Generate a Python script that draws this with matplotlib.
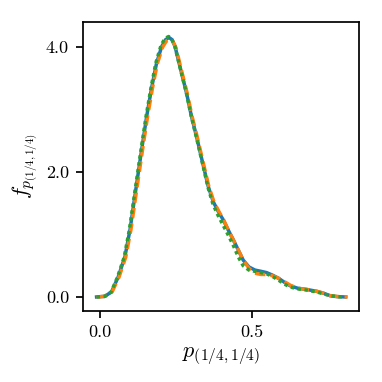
import matplotlib
matplotlib.use("Agg")
import matplotlib.pyplot as plt

plt.rcParams["font.family"] = "serif"
plt.rcParams["font.serif"] = ["cmr10", "DejaVu Serif"]
plt.rcParams["mathtext.fontset"] = "cm"
plt.rcParams["axes.unicode_minus"] = False

# density estimates (three estimates of the same density)
p_blue = [-0.011, 0.016, 0.038, 0.060, 0.082, 0.099, 0.115, 0.130, 0.140, 0.154, 0.170,
          0.186, 0.203, 0.216, 0.227, 0.237, 0.247, 0.263, 0.285, 0.301, 0.318, 0.340,
          0.356, 0.373, 0.390, 0.406, 0.422, 0.439, 0.455, 0.471, 0.490, 0.510, 0.530,
          0.548, 0.567, 0.587, 0.605, 0.625, 0.650, 0.680, 0.713, 0.735, 0.757, 0.780, 0.806]
f_blue = [0.0, 0.01, 0.08, 0.32, 0.64, 1.08, 1.62, 2.12, 2.45, 2.90, 3.35,
          3.74, 4.01, 4.12, 4.155, 4.12, 4.01, 3.69, 3.26, 2.89, 2.56, 2.10,
          1.77, 1.52, 1.36, 1.23, 1.07, 0.91, 0.75, 0.59, 0.48, 0.43, 0.41,
          0.39, 0.35, 0.30, 0.24, 0.18, 0.14, 0.12, 0.09, 0.06, 0.02, 0.005, 0.0]

p_orange = [-0.011, 0.016, 0.040, 0.063, 0.085, 0.102, 0.118, 0.133, 0.143, 0.157, 0.173,
            0.189, 0.206, 0.219, 0.230, 0.240, 0.250, 0.265, 0.287, 0.303, 0.320, 0.342,
            0.358, 0.375, 0.392, 0.408, 0.424, 0.441, 0.457, 0.473, 0.492, 0.510, 0.530,
            0.548, 0.567, 0.587, 0.605, 0.625, 0.650, 0.680, 0.713, 0.735, 0.757, 0.785, 0.815]
f_orange = [0.0, 0.01, 0.08, 0.32, 0.64, 1.08, 1.62, 2.12, 2.45, 2.90, 3.35,
            3.74, 4.00, 4.10, 4.125, 4.09, 3.99, 3.69, 3.26, 2.89, 2.56, 2.10,
            1.77, 1.52, 1.36, 1.22, 1.05, 0.89, 0.73, 0.57, 0.45, 0.38, 0.36,
            0.36, 0.34, 0.30, 0.25, 0.19, 0.14, 0.12, 0.09, 0.06, 0.02, 0.005, 0.0]

p_green = [-0.011, 0.016, 0.037, 0.058, 0.080, 0.097, 0.113, 0.128, 0.138, 0.152, 0.168,
           0.184, 0.201, 0.214, 0.226, 0.236, 0.246, 0.262, 0.284, 0.300, 0.317, 0.339,
           0.355, 0.372, 0.389, 0.405, 0.422, 0.439, 0.455, 0.471, 0.490, 0.510, 0.530,
           0.548, 0.567, 0.587, 0.605, 0.625, 0.650, 0.680, 0.713, 0.735, 0.757, 0.780, 0.806]
f_green = [0.0, 0.01, 0.08, 0.32, 0.64, 1.08, 1.62, 2.12, 2.45, 2.90, 3.35,
           3.75, 4.03, 4.14, 4.17, 4.13, 4.02, 3.70, 3.27, 2.90, 2.56, 2.10,
           1.76, 1.48, 1.30, 1.15, 0.99, 0.82, 0.64, 0.50, 0.43, 0.41, 0.39,
           0.37, 0.33, 0.27, 0.21, 0.16, 0.13, 0.11, 0.08, 0.05, 0.02, 0.005, 0.0]

fig = plt.figure(figsize=(3.82, 3.82), dpi=100)
ax = fig.add_axes([0.217, 0.186, 0.723, 0.756])

ax.plot(p_blue, f_blue, color="C0", lw=2.5, ls="-")
ax.plot(p_orange, f_orange, color="C1", lw=2.5, ls=(0, (3, 1.5)))
ax.plot(p_green, f_green, color="C2", lw=2.5, ls=(0, (1, 1)))

ax.set_xlim(-0.056, 0.852)
ax.set_ylim(-0.224, 4.4)
ax.set_xticks([0.0, 0.5])
ax.set_xticklabels(["0.0", "0.5"])
ax.set_yticks([0.0, 2.0, 4.0])
ax.set_yticklabels(["0.0", "2.0", "4.0"])
ax.tick_params(labelsize=13, width=1.25, length=5, pad=5)
for s in ax.spines.values():
    s.set_linewidth(1.25)

ax.set_xlabel(r"$p_{(1/4,1/4)}$", fontsize=16, labelpad=4)
ax.set_ylabel(r"$f_{p_{(1/4,1/4)}}$", fontsize=16, labelpad=4)

fig.savefig("out.png", dpi=100)
